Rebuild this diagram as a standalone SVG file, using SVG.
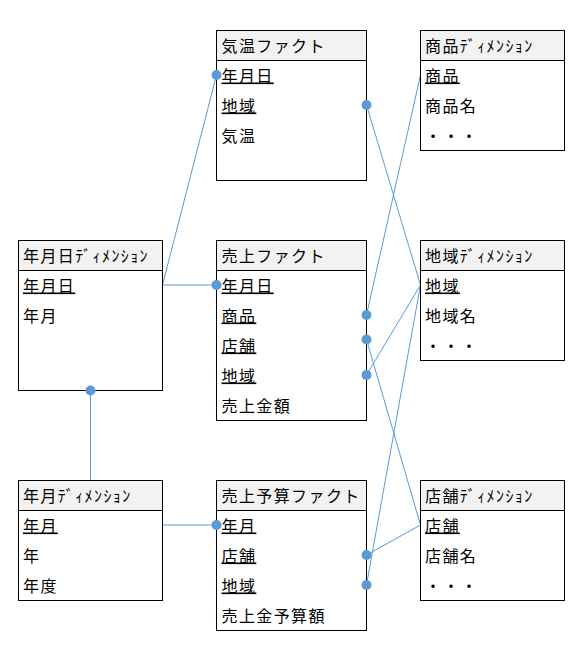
<svg xmlns="http://www.w3.org/2000/svg" width="583" height="661" viewBox="0 0 583 661">
<style>
.box{fill:#FFFFFF;stroke:#000000;stroke-width:1}
.hdr{fill:#F2F2F2;stroke:#000000;stroke-width:1}
text{font-family:"Liberation Sans","Noto Sans CJK JP",sans-serif;font-size:16px;fill:#000000;letter-spacing:1.4px}
.k{text-decoration:underline}
.dots{letter-spacing:2px}
.c{fill:none;stroke:#5B9BD5;stroke-width:1}
.d{fill:#5B9BD5}
</style>
<rect width="583" height="661" fill="#FFFFFF"/>
<g id="connectors">
<line class="c" x1="162.5" y1="285" x2="216.5" y2="75"/>
<line class="c" x1="162.5" y1="285" x2="216.5" y2="285"/>
<line class="c" x1="90.5" y1="390.5" x2="90.5" y2="480.5"/>
<line class="c" x1="162.5" y1="525" x2="216.5" y2="525"/>
<line class="c" x1="366.5" y1="105" x2="420.5" y2="285"/>
<line class="c" x1="366.5" y1="315" x2="420.5" y2="75"/>
<line class="c" x1="366.5" y1="339.5" x2="420.5" y2="525"/>
<line class="c" x1="366.5" y1="375" x2="420.5" y2="285"/>
<line class="c" x1="366.5" y1="555" x2="420.5" y2="525"/>
<line class="c" x1="366.5" y1="585" x2="420.5" y2="285"/>
</g>
<g id="kion-fact">
<rect class="box" x="216.5" y="30.5" width="150" height="150"/>
<rect class="hdr" x="216.5" y="30.5" width="150" height="30"/>
<text x="221.5" y="51.5">気温ファクト</text>
<text class="k" x="221.5" y="81.5">年月日</text>
<text class="k" x="221.5" y="111.5">地域</text>
<text x="221.5" y="141.5">気温</text>
</g>
<g id="shohin-dim">
<rect class="box" x="420.5" y="30.5" width="144" height="120"/>
<rect class="hdr" x="420.5" y="30.5" width="144" height="30"/>
<text x="425" y="51.5">商品ﾃﾞｨﾒﾝｼｮﾝ</text>
<text class="k" x="425" y="81.5">商品</text>
<text x="425" y="111.5">商品名</text>
<text class="dots" x="425" y="141.5">・・・</text>
</g>
<g id="nengappi-dim">
<rect class="box" x="18.5" y="240.5" width="144" height="150"/>
<rect class="hdr" x="18.5" y="240.5" width="144" height="30"/>
<text x="23" y="261.5">年月日ﾃﾞｨﾒﾝｼｮﾝ</text>
<text class="k" x="23" y="291.5">年月日</text>
<text x="23" y="321.5">年月</text>
</g>
<g id="uriage-fact">
<rect class="box" x="216.5" y="240.5" width="150" height="180"/>
<rect class="hdr" x="216.5" y="240.5" width="150" height="30"/>
<text x="221.5" y="261.5">売上ファクト</text>
<text class="k" x="221.5" y="291.5">年月日</text>
<text class="k" x="221.5" y="321.5">商品</text>
<text class="k" x="221.5" y="351.5">店舗</text>
<text class="k" x="221.5" y="381.5">地域</text>
<text x="221.5" y="411.5">売上金額</text>
</g>
<g id="chiiki-dim">
<rect class="box" x="420.5" y="240.5" width="144" height="120"/>
<rect class="hdr" x="420.5" y="240.5" width="144" height="30"/>
<text x="425" y="261.5">地域ﾃﾞｨﾒﾝｼｮﾝ</text>
<text class="k" x="425" y="291.5">地域</text>
<text x="425" y="321.5">地域名</text>
<text class="dots" x="425" y="351.5">・・・</text>
</g>
<g id="nengetsu-dim">
<rect class="box" x="18.5" y="480.5" width="144" height="120"/>
<rect class="hdr" x="18.5" y="480.5" width="144" height="30"/>
<text x="23" y="501.5">年月ﾃﾞｨﾒﾝｼｮﾝ</text>
<text class="k" x="23" y="531.5">年月</text>
<text x="23" y="561.5">年</text>
<text x="23" y="591.5">年度</text>
</g>
<g id="yosan-fact">
<rect class="box" x="216.5" y="480.5" width="150" height="150"/>
<rect class="hdr" x="216.5" y="480.5" width="150" height="30"/>
<text x="221.5" y="501.5">売上予算ファクト</text>
<text class="k" x="221.5" y="531.5">年月</text>
<text class="k" x="221.5" y="561.5">店舗</text>
<text class="k" x="221.5" y="591.5">地域</text>
<text x="221.5" y="621.5">売上金予算額</text>
</g>
<g id="tenpo-dim">
<rect class="box" x="420.5" y="480.5" width="144" height="120"/>
<rect class="hdr" x="420.5" y="480.5" width="144" height="30"/>
<text x="425" y="501.5">店舗ﾃﾞｨﾒﾝｼｮﾝ</text>
<text class="k" x="425" y="531.5">店舗</text>
<text x="425" y="561.5">店舗名</text>
<text class="dots" x="425" y="591.5">・・・</text>
</g>
<g id="connector-ends">
<circle class="d" cx="216.5" cy="75" r="5"/>
<circle class="d" cx="216.5" cy="285" r="5"/>
<circle class="d" cx="90.5" cy="390.5" r="5"/>
<circle class="d" cx="216.5" cy="525" r="5"/>
<circle class="d" cx="366.5" cy="105" r="5"/>
<circle class="d" cx="366.5" cy="315" r="5"/>
<circle class="d" cx="366.5" cy="339.5" r="5"/>
<circle class="d" cx="366.5" cy="375" r="5"/>
<circle class="d" cx="366.5" cy="555" r="5"/>
<circle class="d" cx="366.5" cy="585" r="5"/>
</g>
</svg>
